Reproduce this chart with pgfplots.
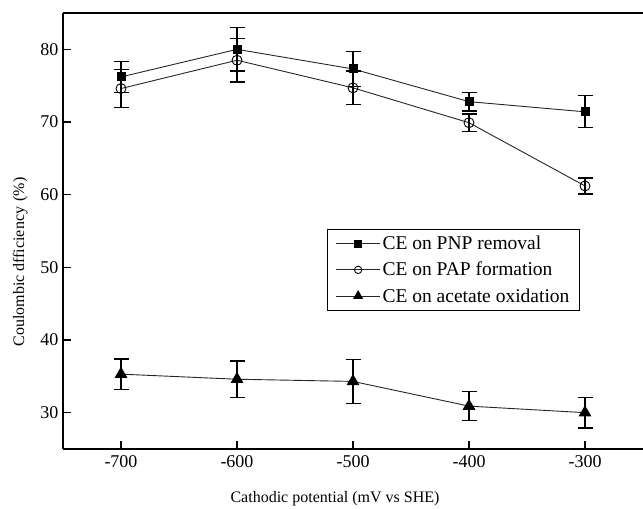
\documentclass[border=0pt]{standalone}
\usepackage{fontspec}
\setmainfont{Liberation Serif}
\usepackage{pgfplots}
\pgfplotsset{compat=1.18}
\pgfplotsset{eb/.style={error bars/.cd, y dir=both, y explicit,
    error bar style={line width=1.3pt, black},
    error mark options={rotate=90, mark size=7.5pt, line width=1.3pt, black}}}

\begin{document}
\begin{tikzpicture}
\begin{axis}[
    scale only axis,
    width=580pt, height=436pt,
    xmin=-750, xmax=-250,
    ymin=25, ymax=85,
    axis x line*=bottom,
    axis y line*=left,
    axis line style={line width=1.6pt},
    xtick={-700,-600,-500,-400,-300},
    ytick={30,40,50,60,70,80},
    tick align=inside,
    major tick length=8pt,
    tick style={line width=1.4pt, black},
    x tick label style={yshift=-3pt},
    y tick label style={xshift=-1pt},
    tick label style={font=\fontsize{18}{20}\selectfont},
    /pgf/number format/assume math mode=true,
    xlabel={Cathodic potential (mV vs SHE)},
    ylabel={Coulombic dfficiency\,\,(\%)},
    label style={font=\fontsize{16}{18}\selectfont},
    xlabel style={yshift=-17pt, xshift=-18pt},
    ylabel style={xshift=-31pt, yshift=6pt},
    legend style={at={(0.891,0.505)}, anchor=north east, draw=black, line width=0.8pt,
        font=\fontsize{19.5}{22}\selectfont, row sep=7pt, inner xsep=8pt, inner ysep=5pt,
        /tikz/every even column/.append style={column sep=2pt}},
    legend cell align=left,
    legend image code/.code={
        \draw[line width=0.9pt,#1] (0pt,0pt) -- (44pt,0pt);
        \draw[#1] plot coordinates {(22pt,0pt)};
    },
]
% CE on PNP removal
\addplot[line width=0.9pt, black!85, mark=square*, mark size=4pt, mark options={black, solid},
    legend image post style={mark size=3.5pt}, eb]
coordinates {
    (-700,76.2) +- (0,2.1)
    (-600,80.0) +- (0,3.0)
    (-500,77.3) +- (0,2.4)
    (-400,72.8) +- (0,1.3)
    (-300,71.4) +- (0,2.2)
};
\addlegendentry{CE on PNP removal}
% CE on PAP formation
\addplot[line width=0.9pt, black!85, mark=o, mark size=5pt, mark options={black, fill=white, line width=0.9pt},
    legend image post style={mark size=3.7pt}, eb]
coordinates {
    (-700,74.6) +- (0,2.6)
    (-600,78.5) +- (0,3.0)
    (-500,74.7) +- (0,2.3)
    (-400,69.9) +- (0,1.2)
    (-300,61.2) +- (0,1.1)
};
\addlegendentry{CE on PAP formation}
% CE on acetate oxidation
\addplot[line width=0.9pt, black!85, mark=triangle*, mark size=6.5pt, mark options={black},
    legend image post style={mark size=5pt}, eb]
coordinates {
    (-700,35.3) +- (0,2.1)
    (-600,34.6) +- (0,2.5)
    (-500,34.3) +- (0,3.0)
    (-400,30.9) +- (0,2.0)
    (-300,30.0) +- (0,2.1)
};
\addlegendentry{CE on acetate oxidation}
\draw[line width=1.6pt] (rel axis cs:0,1) -- (rel axis cs:1,1);
\end{axis}
\pgfresetboundingbox
\path[use as bounding box] ([shift={(-63pt,-60pt)}]current axis.south west) rectangle ([shift={(0pt,13pt)}]current axis.north east);
\end{tikzpicture}
\end{document}
